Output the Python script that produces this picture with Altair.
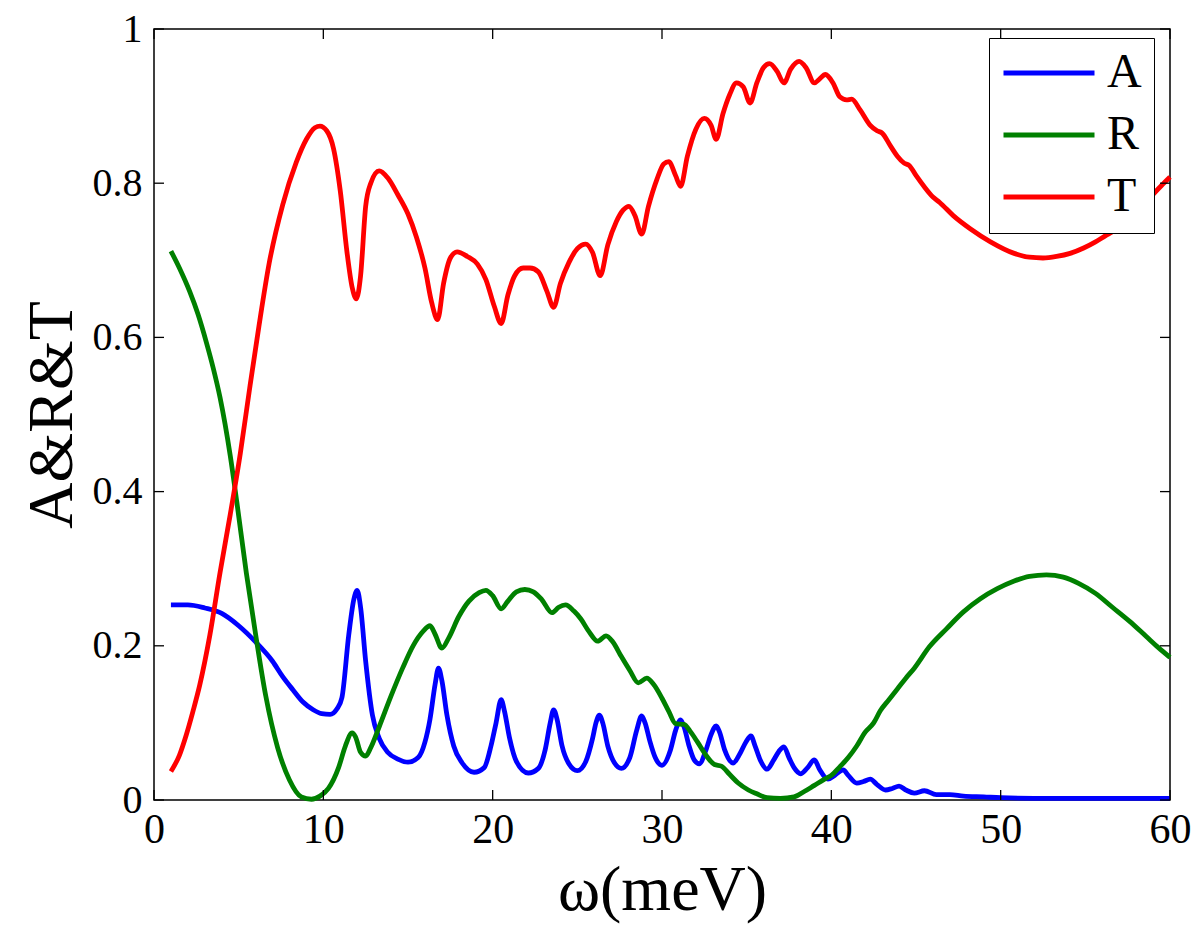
import altair as alt
import pandas as pd

# ---- data ----
A_x = [1.0, 2.0, 3.0, 4.0, 5.0, 6.0, 7.0, 7.6, 8.2, 8.8, 9.4, 9.9, 10.4, 10.8,
       11.1, 11.5, 11.8, 12.0, 12.2, 12.5, 12.9, 13.3, 13.8, 14.4, 15.0, 15.6, 16.0,
       16.3, 16.6, 16.8, 17.0, 17.3, 17.7, 18.2, 18.9, 19.5, 19.9,
       20.2, 20.5, 20.7, 21.0, 21.4, 22.1, 22.7, 23.1, 23.4,
       23.6, 23.8, 24.1, 24.5, 25.0, 25.5, 25.9, 26.1,
       26.3, 26.5, 26.8, 27.2, 27.6, 28.1, 28.5,
       28.8, 29.0, 29.3, 29.6, 30.0, 30.5, 30.8,
       31.1, 31.3, 31.6, 31.9, 32.2, 32.6, 32.9,
       33.2, 33.4, 33.7, 34.2, 34.6, 34.95,
       35.25, 35.5, 35.8, 36.2, 36.6, 36.9,
       37.2, 37.5, 37.8, 38.2, 38.6,
       39.0, 39.3, 39.8, 40.2,
       40.7, 41.0, 41.5, 41.9,
       42.3, 42.7, 43.2, 43.6,
       44.0, 44.4, 44.9, 45.5, 46.2, 47.0, 47.8, 49.0, 50.0, 53.0, 60.0]
A_y = [0.253, 0.253, 0.249, 0.242, 0.226, 0.205, 0.180, 0.160, 0.143, 0.127, 0.117, 0.112, 0.111, 0.118,
       0.133, 0.214, 0.260, 0.272, 0.250, 0.180, 0.110, 0.080, 0.062, 0.053, 0.049, 0.055, 0.075,
       0.105, 0.150, 0.171, 0.155, 0.110, 0.070, 0.048, 0.036, 0.042, 0.070,
       0.100, 0.130, 0.115, 0.080, 0.050, 0.035, 0.041, 0.065, 0.100,
       0.117, 0.105, 0.070, 0.047, 0.038, 0.050, 0.080, 0.100,
       0.110, 0.100, 0.070, 0.048, 0.041, 0.055, 0.090,
       0.109, 0.100, 0.075, 0.055, 0.045, 0.065, 0.090,
       0.104, 0.095, 0.070, 0.052, 0.047, 0.065, 0.085,
       0.096, 0.088, 0.065, 0.048, 0.060, 0.075,
       0.083, 0.070, 0.052, 0.040, 0.052, 0.063,
       0.069, 0.055, 0.042, 0.034, 0.042,
       0.052, 0.040, 0.027, 0.032,
       0.039, 0.032, 0.022, 0.024,
       0.027, 0.020, 0.013, 0.015,
       0.018, 0.013, 0.009, 0.012, 0.007, 0.007, 0.005, 0.004, 0.003, 0.002, 0.002]

R_x = [1.0, 1.5, 2.1, 2.6, 3.1, 3.5, 3.9, 4.5, 4.9, 5.45, 6.0, 6.6, 7.3, 8.0, 8.7, 9.3,
       9.8, 10.3, 10.9, 11.3, 11.7, 11.9, 12.2, 12.5, 12.8, 13.3, 14.0, 14.7, 15.3, 15.9,
       16.3, 16.6, 17.0, 17.4, 18.0, 18.6, 19.2, 19.6, 20.0, 20.5, 20.9, 21.4, 21.9, 22.4,
       22.9, 23.5, 23.9, 24.3, 24.8, 25.2, 25.7, 26.2, 26.7, 27.1, 27.6, 28.1, 28.6, 29.1,
       29.5, 30.0, 30.4, 30.8, 31.3, 31.7, 32.1, 32.6, 33.1, 33.5, 34.0, 34.5, 35.1, 35.6,
       36.2, 37.0, 37.8, 38.4, 39.0, 39.6, 40.0, 40.5, 41.0, 41.5, 42.0, 42.5, 42.9, 43.4,
       43.9, 44.4, 44.9, 45.8, 46.8, 47.8, 48.8, 49.8, 50.8, 51.7, 52.7, 53.7, 54.6, 55.6,
       56.6, 57.6, 58.6, 59.3, 60.0]
R_y = [0.712, 0.690, 0.660, 0.630, 0.593, 0.560, 0.522, 0.447, 0.385, 0.295, 0.215, 0.135, 0.068, 0.026, 0.004, 0.001,
       0.005, 0.015, 0.042, 0.070, 0.087, 0.082, 0.062, 0.057, 0.068, 0.095, 0.135, 0.172, 0.200, 0.219,
       0.226, 0.215, 0.197, 0.210, 0.238, 0.258, 0.269, 0.272, 0.265, 0.248, 0.258, 0.270, 0.273, 0.270,
       0.260, 0.243, 0.250, 0.253, 0.245, 0.235, 0.218, 0.206, 0.213, 0.205, 0.186, 0.168, 0.152, 0.158,
       0.150, 0.132, 0.115, 0.099, 0.098, 0.088, 0.075, 0.058, 0.046, 0.044, 0.033, 0.022, 0.013, 0.008,
       0.003, 0.002, 0.004, 0.011, 0.019, 0.027, 0.032, 0.043, 0.055, 0.070, 0.088, 0.100, 0.116, 0.130,
       0.144, 0.158, 0.171, 0.199, 0.222, 0.244, 0.261, 0.274, 0.284, 0.290, 0.292, 0.289, 0.281, 0.268,
       0.250, 0.232, 0.212, 0.198, 0.185]

T_x = [1.0, 1.5, 1.9, 2.3, 2.7, 3.3, 3.9, 4.5, 5.1, 5.65, 6.2, 6.8, 7.6, 8.4, 9.0, 9.5, 9.8,
       10.2, 10.6, 11.0, 11.4, 11.7, 11.95, 12.2, 12.5, 12.8, 13.3, 13.8, 14.4, 15.0, 15.5,
       16.0, 16.4, 16.75, 17.1, 17.5, 17.9, 18.5, 19.1, 19.6, 20.1, 20.5, 20.9, 21.3, 21.8,
       22.2, 22.7, 23.2, 23.6, 24.0, 24.5, 25.0, 25.5, 25.9, 26.35, 26.8, 27.3, 27.7, 28.05,
       28.4, 28.8, 29.2, 29.7, 30.1, 30.4, 30.8, 31.1, 31.5, 32.0, 32.5, 32.9, 33.2, 33.6,
       34.0, 34.4, 34.8, 35.2, 35.6, 36.0, 36.35, 36.8, 37.2, 37.6, 38.1, 38.5, 39.0, 39.3,
       39.65, 40.1, 40.5, 40.9, 41.2, 41.7, 42.3, 42.7, 43.0, 43.5, 43.9, 44.3, 44.6, 45.0,
       45.5, 46.0, 46.4, 47.2, 48.2, 49.4, 50.8, 51.7, 52.5, 53.3, 54.1, 54.9, 55.6, 56.2,
       56.6, 57.4, 58.2, 59.06, 59.5, 60.0]
T_y = [0.037, 0.058, 0.084, 0.115, 0.149, 0.214, 0.295, 0.370, 0.450, 0.534, 0.615, 0.696, 0.772, 0.827, 0.857, 0.872, 0.874,
       0.868, 0.845, 0.790, 0.710, 0.665, 0.650, 0.680, 0.770, 0.800, 0.816, 0.807, 0.785, 0.760, 0.730,
       0.690, 0.645, 0.623, 0.670, 0.703, 0.711, 0.705, 0.695, 0.675, 0.640, 0.618, 0.655, 0.680, 0.690,
       0.690, 0.685, 0.660, 0.639, 0.670, 0.697, 0.715, 0.721, 0.710, 0.680, 0.720, 0.750, 0.765, 0.770,
       0.758, 0.734, 0.770, 0.805, 0.825, 0.828, 0.810, 0.796, 0.835, 0.870, 0.884, 0.875, 0.857, 0.890,
       0.915, 0.930, 0.925, 0.904, 0.930, 0.950, 0.955, 0.945, 0.930, 0.948, 0.958, 0.950, 0.930, 0.935,
       0.941, 0.930, 0.912, 0.908, 0.909, 0.895, 0.875, 0.868, 0.865, 0.848, 0.835, 0.826, 0.823, 0.810,
       0.795, 0.782, 0.775, 0.758, 0.741, 0.724, 0.709, 0.704, 0.703, 0.705, 0.709, 0.716, 0.724, 0.732,
       0.737, 0.750, 0.767, 0.787, 0.797, 0.808]

series_names = ["A", "R", "T"]
series_colors = ["#0000ff", "#008000", "#ff0000"]
x_ticks = [0, 10, 20, 30, 40, 50, 60]
y_ticks = [0, 0.2, 0.4, 0.6, 0.8, 1.0]

# ---- build tables ----
rows = []
for name, xs, ys in zip(series_names, [A_x, R_x, T_x], [A_y, R_y, T_y]):
    for i, (xv, yv) in enumerate(zip(xs, ys)):
        rows.append({"w": xv, "v": yv, "s": name, "o": i})
df = pd.DataFrame(rows)
xt = pd.DataFrame({"t": x_ticks})
yt = pd.DataFrame({"t": y_ticks})

W, H = 1016, 771
FONT = "Liberation Serif"

xscale = alt.Scale(domain=[0, 60], nice=False, zero=False)
yscale = alt.Scale(domain=[0, 1], nice=False, zero=False)

lines = alt.Chart(df).mark_line(strokeWidth=4.8, interpolate="monotone").encode(
    x=alt.X("w:Q", scale=xscale,
            axis=alt.Axis(title="ω(meV)", values=x_ticks, format="d", grid=False,
                          ticks=False, domain=False, labelFlush=False,
                          labelFont=FONT, labelFontSize=42,
                          labelPadding=9, titleFont=FONT, titleFontSize=64,
                          titleFontWeight="normal", titlePadding=8, labelColor="black",
                          titleColor="black")),
    y=alt.Y("v:Q", scale=yscale,
            axis=alt.Axis(title="A&R&T", values=y_ticks, format="~g", grid=False,
                          ticks=False, domain=False, labelFlush=False,
                          labelFont=FONT, labelFontSize=40,
                          labelPadding=12, titleFont=FONT, titleFontSize=64,
                          titleFontWeight="normal", titlePadding=8, labelColor="black",
                          titleColor="black")),
    color=alt.Color("s:N", scale=alt.Scale(domain=series_names, range=series_colors),
                    legend=alt.Legend(title=None, orient="none", legendX=835, legendY=9,
                                      direction="vertical", fillColor="white",
                                      strokeColor="black", padding=12,
                                      symbolType="stroke", symbolStrokeWidth=5,
                                      symbolSize=8281, clipHeight=46, rowPadding=14,
                                      labelFont=FONT, labelFontSize=48, labelOffset=10,
                                      labelColor="black")),
    order="o:Q",
)

tick_style = dict(color="black", strokeWidth=1.3)
bottom_ticks = alt.Chart(xt).mark_rule(**tick_style).encode(
    x=alt.X("t:Q", scale=xscale), y=alt.value(H), y2=alt.value(H - 10))
top_ticks = alt.Chart(xt).mark_rule(**tick_style).encode(
    x=alt.X("t:Q", scale=xscale), y=alt.value(0), y2=alt.value(10))
left_ticks = alt.Chart(yt).mark_rule(**tick_style).encode(
    y=alt.Y("t:Q", scale=yscale), x=alt.value(0), x2=alt.value(10))
right_ticks = alt.Chart(yt).mark_rule(**tick_style).encode(
    y=alt.Y("t:Q", scale=yscale), x=alt.value(W), x2=alt.value(W - 10))

chart = alt.layer(lines, bottom_ticks, top_ticks, left_ticks, right_ticks).properties(
    width=W, height=H,
    autosize=alt.AutoSizeParams(type="none"),
    padding={"left": 146, "top": 21, "right": 22, "bottom": 124},
    background="white",
).configure_view(stroke="black", strokeWidth=1.5)

chart.save("out.html", embed_options={"renderer": "svg", "actions": False})
